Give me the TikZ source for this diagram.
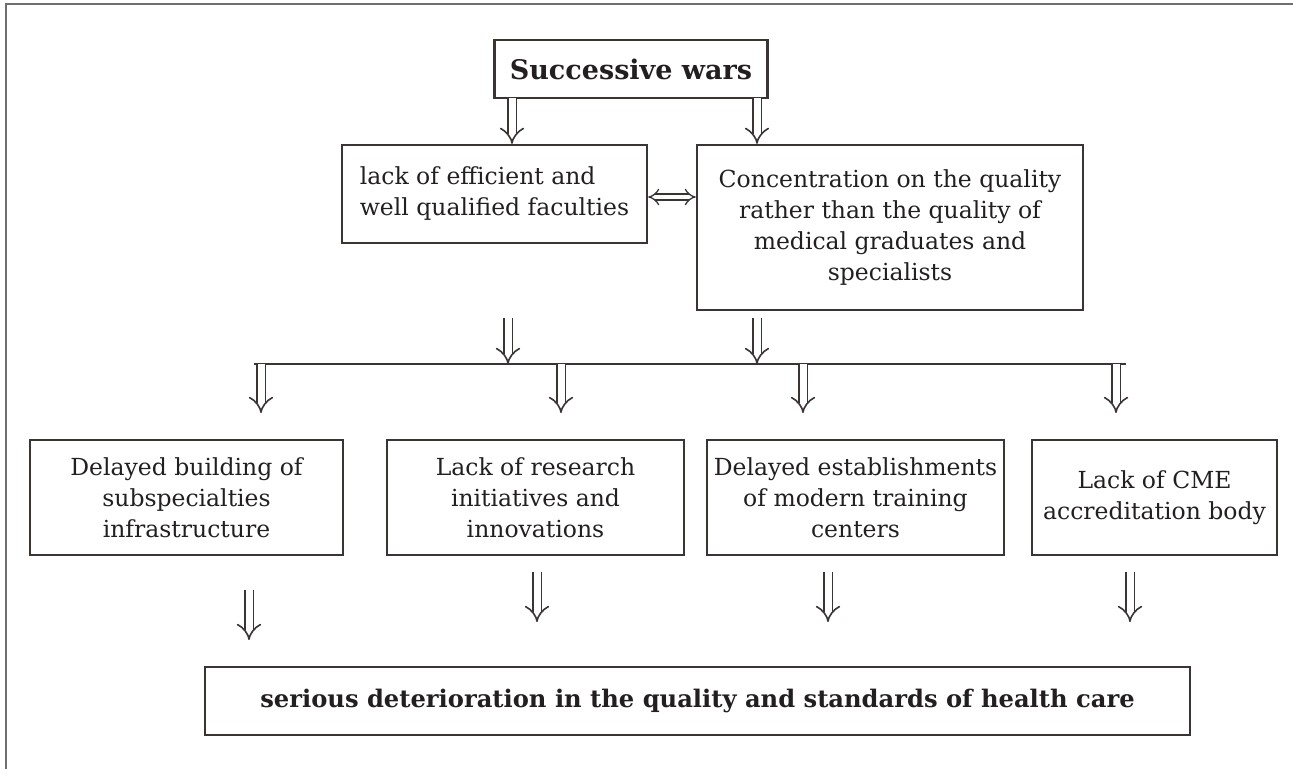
\documentclass[tikz,border=0pt]{standalone}
\usepackage{fontspec}
\setmainfont{DejaVu Serif}
\usetikzlibrary{arrows.meta}

\definecolor{inkline}{HTML}{3A3432}
\definecolor{inktext}{HTML}{231F20}
\definecolor{framegray}{HTML}{6E6E6E}

\tikzset{
  box/.style={draw=inkline, line width=2.3pt, inner sep=0pt, align=center,
    text=inktext, font=\fontsize{23.5}{31}\selectfont},
  boldbox/.style={box, font=\bfseries\fontsize{24.2}{30}\selectfont},
  hollow/.style={draw=inkline, line width=1.6pt, double=white, double distance=7pt, -{Implies}},
  hollowboth/.style={draw=inkline, line width=1.3pt, double=white, double distance=4.5pt, {Implies}-{Implies}},
  bus/.style={draw=inkline, line width=2.4pt},
}

\begin{document}
\begin{tikzpicture}[x=1pt,y=-1pt]
\useasboundingbox (0,0) rectangle (1293,769);
% open frame, left and top only
\draw[framegray, line width=2pt] (6,769) -- (6,4) -- (1293,4);

% cause
\node[boldbox, minimum width=273, minimum height=58,
  font=\bfseries\fontsize{27}{32}\selectfont] (wars) at (631,69) {Successive wars};

% direct effects
\node[box, minimum width=305, minimum height=98, align=left] (fac) at (494.5,194)
  {lack of efficient and\\well qualified faculties};
\node[box, minimum width=386, minimum height=165] (conc) at (890,227.5)
  {Concentration on the quality\\rather than the quality of\\medical graduates and\\specialists};

% consequences
\node[box, minimum width=313, minimum height=115] (infra) at (186.5,497.5)
  {Delayed building of\\subspecialties\\infrastructure};
\node[box, minimum width=297, minimum height=115] (research) at (535.5,497.5)
  {Lack of research\\initiatives and\\innovations};
\node[box, minimum width=297, minimum height=115] (training) at (855.5,497.5)
  {Delayed establishments\\of modern training\\centers};
\node[box, minimum width=245, minimum height=115] (cme) at (1154.5,497.5)
  {Lack of CME\\accreditation body};

% outcome
\node[boldbox, minimum width=985, minimum height=68] (outcome) at (697.5,701)
  {serious deterioration in the quality and standards of health care};

% arrows from the cause
\coordinate (t1) at (512,98);
\coordinate (t2) at (757,98);
\draw[hollow] (t1) -- (t1 |- fac.north);
\draw[hollow] (t2) -- (t2 |- conc.north);
\draw[hollowboth] ([yshift=-3pt]fac.east) -- ([yshift=-3pt]fac.east -| conc.west);

% bus
\coordinate (busL) at (254,364);
\coordinate (busR) at (1126,364);
\draw[bus] (busL) -- (busR);
\foreach \x in {508,757}
  \draw[hollow] (\x,318) -- (busL -| \x,0);
\foreach \x in {261,561,803,1116}
  \draw[hollow] (busL -| \x,0) -- ++(0,49);

% arrows towards the outcome
\foreach \x/\y in {249/590,537/572,828/572,1130/572}
  \draw[hollow] (\x,\y) -- ++(0,50);
\end{tikzpicture}
\end{document}
